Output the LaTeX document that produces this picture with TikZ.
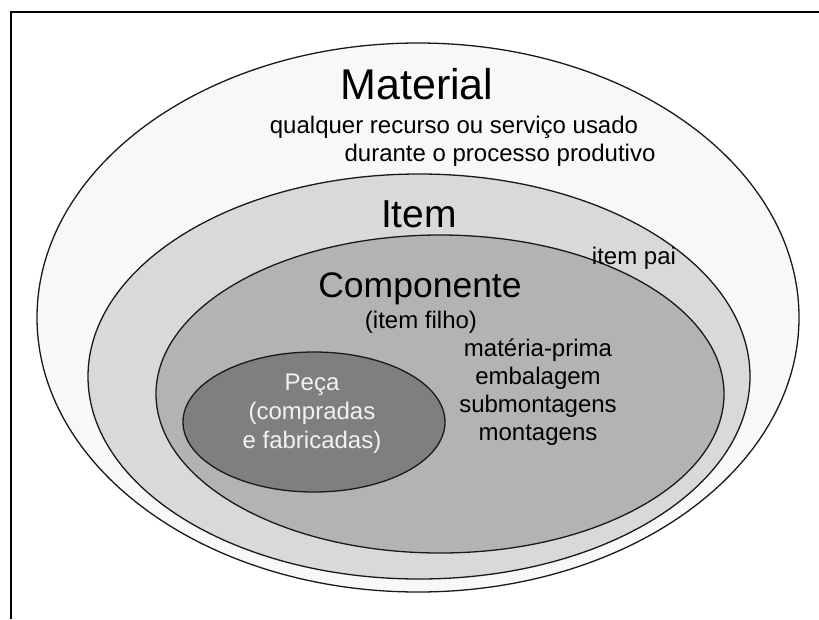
\documentclass[tikz,border=0pt]{standalone}
\usepackage{fontspec}
\setmainfont{Liberation Sans}
\begin{document}
\begin{tikzpicture}[x=1pt,y=-1pt,
  setline/.style={draw=black!90,line width=1.3pt},
  lbl/.style={anchor=base,inner sep=0pt,font=\fontsize{24}{28}\selectfont},
  big/.style={anchor=base,inner sep=0pt}]
\definecolor{matfill}{HTML}{F8F8F8}
\definecolor{itemfill}{HTML}{D9D9D9}
\definecolor{compfill}{HTML}{B3B3B3}
\definecolor{pecafill}{HTML}{7F7F7F}
\useasboundingbox (0,0) rectangle (819,619);
% frame
\draw[line width=2pt] (819,12) -- (11,12) -- (11,619);
% nested sets
\draw[setline,fill=matfill] (418,317.5) ellipse [x radius=381,y radius=274.5];
\draw[setline,fill=itemfill] (419,376.5) ellipse [x radius=331,y radius=202.5];
\draw[setline,fill=compfill] (440,394) ellipse [x radius=284,y radius=159];
\draw[setline,fill=pecafill] (314,422) ellipse [x radius=131,y radius=70];
% Material
\node[big,font=\fontsize{43}{50}\selectfont] (mat) at (417,99) {Material};
\node[lbl] (matd1) at (454,133) {qualquer recurso ou serviço usado};
\node[lbl] (matd2) at (500,161) {durante o processo produtivo};
% Item
\node[big,font=\fontsize{39}{46}\selectfont] (item) at (419,227) {Item};
\node[lbl] (pai) at (634,264) {item pai};
% Componente
\node[big,font=\fontsize{35.5}{42}\selectfont] (comp) at (420,297) {Componente};
\node[lbl] (filho) at (421,328) {(item filho)};
\node[lbl] (c1) at (538,356) {matéria-prima};
\node[lbl] (c2) at (538,384) {embalagem};
\node[lbl] (c3) at (538,412) {submontagens};
\node[lbl] (c4) at (538,440) {montagens};
% Peça
\node[lbl,text=white!95!black] (peca) at (312,390) {Peça};
\node[lbl,text=white!95!black] (p2) at (312,419) {(compradas};
\node[lbl,text=white!95!black] (p3) at (312,448) {e fabricadas)};
\end{tikzpicture}
\end{document}
